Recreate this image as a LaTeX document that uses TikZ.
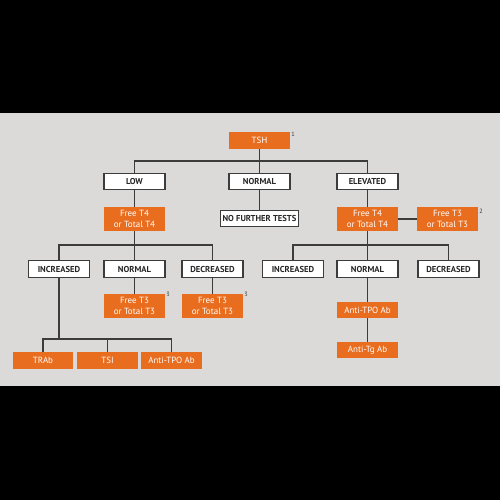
\documentclass[tikz,border=0pt]{standalone}
\usepackage{fontspec}
\setmainfont{PT Sans}
\usepackage{tikz}
\usetikzlibrary{positioning}

\definecolor{bggray}{HTML}{DCDAD8}
\definecolor{testorange}{HTML}{E96D1F}
\definecolor{linegray}{HTML}{3C3C3C}

\begin{document}
\begin{tikzpicture}[
  x=0.02cm, y=-0.02cm,
  resultbox/.style={draw=linegray,line width=0.6pt,fill=white,minimum width=1.22cm,minimum height=0.33cm,inner sep=0pt,font=\fontsize{4.9}{5.5}\selectfont\bfseries,text=black!85},
  testbox/.style={fill=testorange,minimum width=1.22cm,minimum height=0.34cm,inner sep=0pt,align=center,font=\fontsize{5.1}{5.9}\selectfont,text=white},
  tallbox/.style={testbox,minimum height=0.48cm},
  fnote/.style={font=\fontsize{3.5}{4}\selectfont,text=black!80,inner sep=0pt},
  link/.style={draw=linegray,line width=0.85pt}
]
\fill[black] (0,0) rectangle (500,500);
\fill[bggray] (0,113) rectangle (500,386);
\useasboundingbox (0,0) rectangle (500,500);

% first level
\node[testbox] (tsh) at (259.5,140.5) {TSH};
\node[fnote] (fn1) at (293,134) {1};
\node[resultbox] (low) at (134.5,181.5) {LOW};
\node[resultbox] (normal) at (259.5,181.5) {NORMAL};
\node[resultbox] (elevated) at (367.5,181.5) {ELEVATED};
\coordinate (busTop) at (259.5,161);

% second level
\node[tallbox] (ftfourL) at (134.5,219) {Free T4\\or Total T4};
\node[resultbox,minimum width=1.56cm] (nft) at (259.5,218.5) {NO FURTHER TESTS};
\node[tallbox] (ftfourR) at (367.5,219) {Free T4\\or Total T4};
\node[tallbox] (ftthreeR) at (447.5,219) {Free T3\\or Total T3};
\node[fnote] (fn2) at (481,211) {2};

% left branch
\coordinate (busL) at (134.5,245);
\node[resultbox] (incL) at (59,269) {INCREASED};
\node[resultbox] (normL) at (134.5,269) {NORMAL};
\node[resultbox] (decL) at (212.5,269) {DECREASED};
\node[tallbox] (ftthreeN) at (134.5,306) {Free T3\\or Total T3};
\node[fnote] (fn3a) at (168,294) {3};
\node[tallbox] (ftthreeD) at (212.5,306) {Free T3\\or Total T3};
\node[fnote] (fn3b) at (246,294) {3};
\coordinate (busAb) at (107.5,339);
\node[testbox,minimum width=1.2cm] (trab) at (43,360.5) {TRAb};
\node[testbox] (tsi) at (107.5,360.5) {TSI};
\node[testbox] (tpoL) at (171.5,360.5) {Anti-TPO Ab};

% right branch
\coordinate (busR) at (367.5,245);
\node[resultbox] (incR) at (293,269) {INCREASED};
\node[resultbox] (normR) at (367.5,269) {NORMAL};
\node[resultbox] (decR) at (448.5,269) {DECREASED};
\node[testbox,minimum height=0.32cm] (tpoR) at (367.5,310) {Anti-TPO Ab};
\node[testbox,minimum height=0.32cm] (tg) at (367.5,350) {Anti-Tg Ab};

% connectors
\path[link] (tsh) -- (normal);
\path[link] (low) |- (busTop) -| (elevated);
\path[link] (normal) -- (nft);
\path[link] (low) -- (ftfourL);
\path[link] (elevated) -- (ftfourR);
\path[link] (ftfourR) -- (ftthreeR);
\path[link] (ftfourL) -- (normL);
\path[link] (incL) |- (busL) -| (decL);
\path[link] (normL) -- (ftthreeN);
\path[link] (decL) -- (ftthreeD);
\path[link] (incL) -- (incL |- busAb);
\path[link] (trab) |- (busAb) -| (tpoL);
\path[link] (tsi) -- (busAb);
\path[link] (ftfourR) -- (normR);
\path[link] (incR) |- (busR) -| (decR);
\path[link] (normR) -- (tpoR);
\path[link] (tpoR) -- (tg);
\end{tikzpicture}
\end{document}
